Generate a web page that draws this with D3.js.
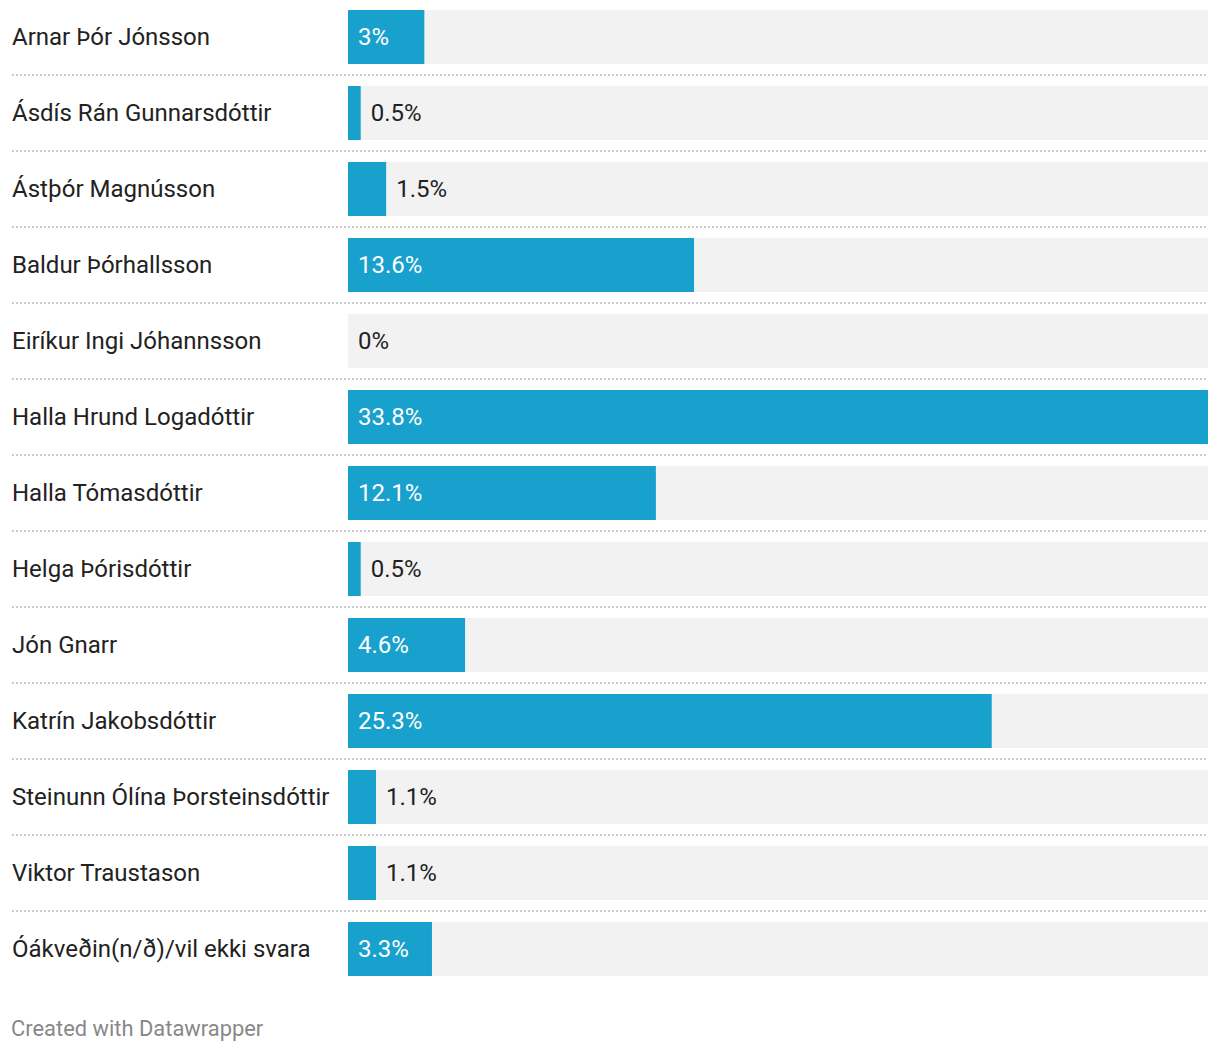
<!DOCTYPE html>
<html><head><meta charset="utf-8">
<script src="https://cdn.jsdelivr.net/npm/d3@7"></script>
<style>body{margin:0;background:#fff;}svg{display:block;font-family:Roboto,sans-serif;}</style>
</head><body>
<svg id="c" width="1220" height="1052"></svg>
<script>
const categories = ["Arnar Þór Jónsson","Ásdís Rán Gunnarsdóttir","Ástþór Magnússon","Baldur Þórhallsson","Eiríkur Ingi Jóhannsson","Halla Hrund Logadóttir","Halla Tómasdóttir","Helga Þórisdóttir","Jón Gnarr","Katrín Jakobsdóttir","Steinunn Ólína Þorsteinsdóttir","Viktor Traustason","Óákveðin(n/ð)/vil ekki svara"];
const values = [3,0.5,1.5,13.6,0,33.8,12.1,0.5,4.6,25.3,1.1,1.1,3.3];
const valueLabels = ["3%","0.5%","1.5%","13.6%","0%","33.8%","12.1%","0.5%","4.6%","25.3%","1.1%","1.1%","3.3%"];

const svg = d3.select("#c");
const x = d3.scaleLinear().domain([0, d3.max(values)]).range([348, 1208]);
const y = d3.scaleBand().domain(categories).range([0, 76*categories.length]).paddingInner(0);
const barH = 54, barOff = 10;
const data = categories.map((c,i)=>({c, v:values[i], l:valueLabels[i]}));

const g = svg.selectAll("g.row").data(data).join("g").attr("class","row")
  .attr("transform", d=>`translate(0,${y(d.c)})`);

g.append("rect").attr("x", x(0)).attr("y", barOff).attr("width", x.range()[1]-x(0)).attr("height", barH).attr("fill","#f2f2f2");
g.append("rect").attr("x", x(0)).attr("y", barOff).attr("width", d=>x(d.v)-x(0)).attr("height", barH).attr("fill","#18a1cd");
g.append("text").attr("x",12).attr("y", barOff+barH/2-0.5).attr("dy","0.35em")
  .attr("font-size",24).attr("fill","#222").text(d=>d.c);
g.each(function(d){
  const sel = d3.select(this);
  const t = sel.append("text").attr("y", barOff+barH/2-0.5).attr("dy","0.35em").attr("font-size",24).text(d.l);
  const w = t.node().getComputedTextLength();
  const bw = x(d.v)-x(0);
  if (d.v===0) { t.attr("x", x(0)+10).attr("fill","#222"); }
  else if (w + 20 <= bw) { t.attr("x", x(0)+10).attr("fill","#fff"); }
  else { t.attr("x", x(d.v)+10).attr("fill","#222"); }
});
g.filter((d,i)=>i<categories.length-1).append("line")
  .attr("x1",12).attr("x2",1208).attr("y1",75).attr("y2",75)
  .attr("stroke","#cccccc").attr("stroke-width",2).attr("stroke-dasharray","2,2");

svg.append("text").attr("x",11).attr("y",1036).attr("font-size",21.9).attr("fill","#888").text("Created with Datawrapper");
</script>
</body></html>
